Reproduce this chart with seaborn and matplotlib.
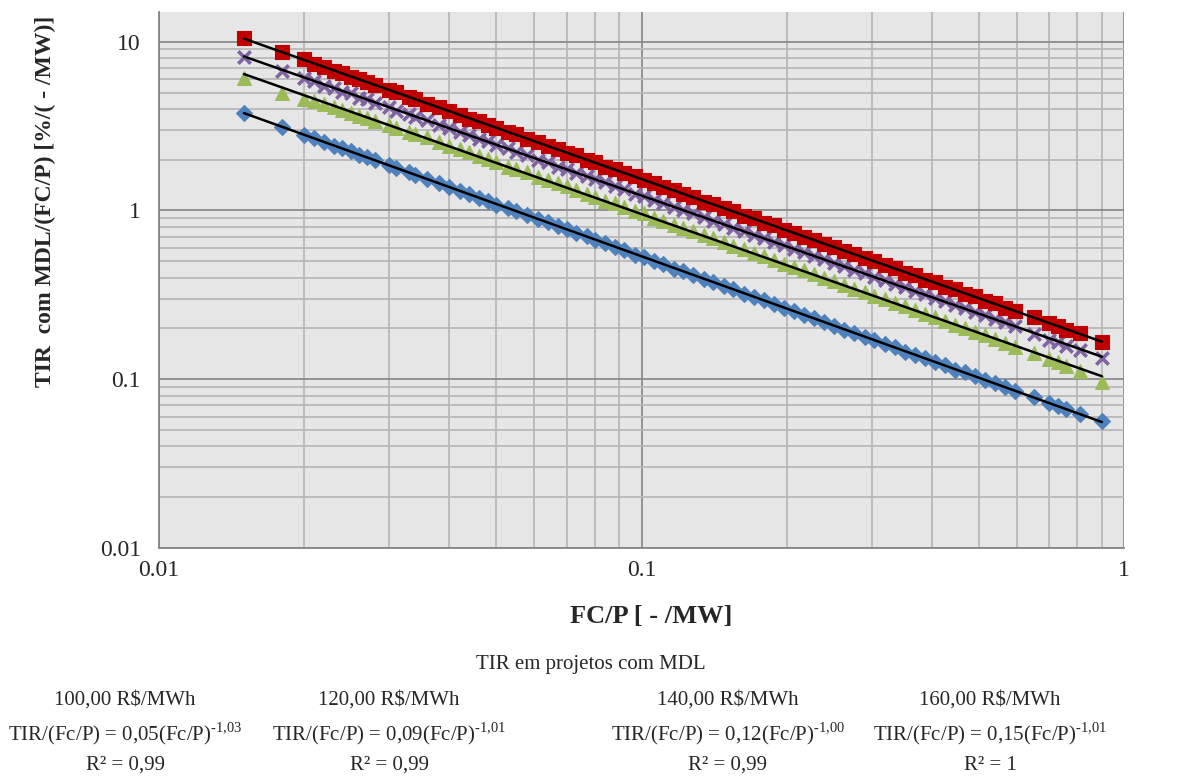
import numpy as np
import matplotlib
matplotlib.use("Agg")
import matplotlib.pyplot as plt
import seaborn as sns
from matplotlib.ticker import LogLocator, NullFormatter

# FC/P [-/MW]
fcp = [0.015, 0.018, 0.020, 0.021, 0.022, 0.023, 0.024, 0.025, 0.026, 0.027,
       0.028, 0.030, 0.031, 0.033, 0.034, 0.036, 0.038, 0.040, 0.042, 0.044,
       0.046, 0.048, 0.050, 0.053, 0.055, 0.058, 0.061, 0.064, 0.067, 0.070,
       0.073, 0.077, 0.080, 0.084, 0.088, 0.092, 0.097, 0.101, 0.106, 0.111,
       0.117, 0.122, 0.128, 0.135, 0.141, 0.148, 0.155, 0.163, 0.171, 0.179,
       0.188, 0.197, 0.207, 0.217, 0.228, 0.239, 0.251, 0.263, 0.276, 0.290,
       0.304, 0.319, 0.335, 0.351, 0.368, 0.386, 0.405, 0.425, 0.446, 0.468,
       0.491, 0.515, 0.540, 0.567, 0.595, 0.65, 0.70, 0.73, 0.76, 0.81, 0.90]

# TIR com MDL / (FC/P)
tir_100 = [3.78, 3.13, 2.79, 2.68, 2.55, 2.42, 2.33, 2.25, 2.14, 2.07,
           1.98, 1.86, 1.78, 1.69, 1.62, 1.54, 1.45, 1.38, 1.30, 1.25,
           1.19, 1.14, 1.08, 1.03, 0.99, 0.945, 0.885, 0.852, 0.806, 0.778,
           0.738, 0.705, 0.672, 0.645, 0.608, 0.586, 0.548, 0.532, 0.503, 0.484,
           0.452, 0.438, 0.414, 0.395, 0.376, 0.356, 0.342, 0.322, 0.309, 0.293,
           0.281, 0.265, 0.254, 0.240, 0.230, 0.217, 0.208, 0.197, 0.189, 0.178,
           0.171, 0.161, 0.155, 0.146, 0.140, 0.134, 0.126, 0.121, 0.114, 0.110,
           0.104, 0.0985, 0.0945, 0.0895, 0.0855, 0.0785, 0.0725, 0.069, 0.0665, 0.062, 0.0565]
tir_120 = [6.10, 4.95, 4.58, 4.45, 4.28, 4.12, 3.93, 3.80, 3.64, 3.55,
           3.40, 3.20, 3.08, 2.93, 2.82, 2.71, 2.55, 2.42, 2.30, 2.21,
           2.09, 2.02, 1.93, 1.82, 1.76, 1.68, 1.58, 1.52, 1.46, 1.39,
           1.32, 1.26, 1.21, 1.14, 1.10, 1.05, 0.99, 0.96, 0.905, 0.868,
           0.822, 0.79, 0.755, 0.712, 0.685, 0.65, 0.618, 0.59, 0.56, 0.536,
           0.508, 0.482, 0.461, 0.441, 0.418, 0.40, 0.38, 0.362, 0.344, 0.328,
           0.312, 0.297, 0.283, 0.27, 0.257, 0.245, 0.233, 0.222, 0.211, 0.201,
           0.191, 0.182, 0.173, 0.165, 0.156, 0.143, 0.131, 0.126, 0.12, 0.112, 0.096]
tir_140 = [8.10, 6.75, 6.10, 5.85, 5.50, 5.35, 5.05, 4.95, 4.65, 4.60,
           4.35, 4.10, 3.90, 3.75, 3.58, 3.42, 3.20, 3.08, 2.90, 2.80,
           2.65, 2.57, 2.44, 2.33, 2.21, 2.13, 2.00, 1.93, 1.82, 1.77,
           1.67, 1.60, 1.53, 1.47, 1.39, 1.34, 1.26, 1.22, 1.16, 1.11,
           1.05, 1.01, 0.96, 0.915, 0.87, 0.835, 0.79, 0.757, 0.718, 0.69,
           0.652, 0.626, 0.593, 0.569, 0.538, 0.516, 0.488, 0.469, 0.444, 0.425,
           0.403, 0.387, 0.366, 0.351, 0.333, 0.319, 0.302, 0.290, 0.274, 0.263,
           0.249, 0.239, 0.226, 0.218, 0.206, 0.186, 0.170, 0.166, 0.158, 0.149, 0.134]
tir_160 = [10.45, 8.70, 7.85, 7.40, 7.10, 6.75, 6.50, 6.20, 6.00, 5.74,
           5.57, 5.16, 5.03, 4.68, 4.58, 4.29, 4.10, 3.86, 3.70, 3.50,
           3.37, 3.21, 3.10, 2.90, 2.82, 2.65, 2.54, 2.40, 2.31, 2.19,
           2.12, 1.99, 1.93, 1.82, 1.76, 1.66, 1.59, 1.51, 1.46, 1.37,
           1.32, 1.25, 1.21, 1.12, 1.09, 1.03, 0.99, 0.932, 0.897, 0.848,
           0.815, 0.77, 0.74, 0.698, 0.672, 0.633, 0.61, 0.575, 0.553, 0.521,
           0.502, 0.473, 0.455, 0.429, 0.415, 0.389, 0.377, 0.353, 0.341, 0.321,
           0.31, 0.291, 0.282, 0.264, 0.255, 0.233, 0.214, 0.207, 0.197, 0.187, 0.167]

series_names = ["100,00 R$/MWh", "120,00 R$/MWh", "140,00 R$/MWh", "160,00 R$/MWh"]
coef_txt = ["0,05", "0,09", "0,12", "0,15"]
expo_txt = ["1{,}03", "1{,}01", "1{,}00", "1{,}01"]
r2_txt = ["0,99", "0,99", "0,99", "1"]

sns.set_style("white")
plt.rcParams["font.family"] = ["Liberation Serif", "DejaVu Serif"]
plt.rcParams["mathtext.fontset"] = "custom"
plt.rcParams["mathtext.rm"] = "Liberation Serif"

W, H = 1193, 778
fig = plt.figure(figsize=(W / 100, H / 100), dpi=100)
ax = fig.add_axes([159 / W, 1 - 548 / H, 965 / W, 536 / H])
ax.set_facecolor("#e6e6e6")
ax.set_xscale("log")
ax.set_yscale("log")

styles = [
    (tir_100, "#4f81bd", "D", 66, 0.8),
    (tir_120, "#9bbb59", "^", 100, 0.8),
    (tir_140, "#8064a2", "x", 80, 2.6),
    (tir_160, "#c00000", "s", 115, 0.8),
]
for vals, col, mk, sz, lw in styles:
    sns.scatterplot(x=fcp, y=vals, color=col, marker=mk, s=sz, ax=ax,
                    edgecolor=col, linewidth=lw, zorder=3)

# power trend lines, fitted in log space
lx = np.log10(fcp)
for vals, *_ in styles:
    b, a = np.polyfit(lx, np.log10(vals), 1)
    fit = 10 ** (a + b * lx)
    sns.lineplot(x=fcp, y=fit, color="black", linewidth=1.8, ax=ax,
                 estimator=None, zorder=4)

ax.set_xlim(0.01, 1)
ax.set_ylim(0.01, 15)
ax.set_xticks([0.01, 0.1, 1], labels=["0.01", "0.1", "1"])
ax.set_yticks([0.01, 0.1, 1, 10], labels=["0.01", "0.1", "1", "10"])
for axis in (ax.xaxis, ax.yaxis):
    axis.set_minor_locator(LogLocator(base=10, subs=range(2, 10), numticks=20))
    axis.set_minor_formatter(NullFormatter())

ax.set_axisbelow(True)
ax.grid(which="major", color="#8c8c8c", linewidth=1.3)
ax.grid(which="minor", color="#b8b8b8", linewidth=1.3)
for side in ("top", "right"):
    ax.spines[side].set_visible(False)
for side in ("left", "bottom"):
    ax.spines[side].set_color("#868686")
    ax.spines[side].set_linewidth(1.3)
ax.tick_params(which="major", direction="out", length=5, color="#868686",
               labelsize=17)
ax.tick_params(axis="y", which="major", pad=8)
ax.tick_params(axis="x", which="major", pad=4)
ax.tick_params(which="minor", direction="out", length=4, color="#868686")
ax.set_xlabel("")
ax.set_ylabel("")

fig.text(651 / W, 1 - 617 / H, "FC/P [ - /MW]", ha="center", va="center",
         fontsize=19, fontweight="bold")
fig.text(45 / W, 1 - 201 / H, "TIR  com MDL/(FC/P) [%/( - /MW)]", ha="center",
         va="center", rotation=90, fontsize=17, fontweight="bold")

fig.text(591 / W, 1 - 665 / H, "TIR em projetos com MDL", ha="center",
         va="center", fontsize=15)
col_x = [125, 389, 728, 990]
for cx, name, a_txt, e_txt, r2 in zip(col_x, series_names, coef_txt, expo_txt, r2_txt):
    fig.text(cx / W, 1 - 700 / H, name, ha="center", va="center", fontsize=15)
    fig.text(cx / W, 1 - 734 / H,
             "TIR/(Fc/P) = " + a_txt + "(Fc/P)$^{\\mathregular{\u2010" + e_txt + "}}$",
             ha="center", va="center", fontsize=15)
    fig.text(cx / W, 1 - 765 / H, "R² = " + r2, ha="center", va="center",
             fontsize=15)

fig.savefig("out.png", dpi=100)
